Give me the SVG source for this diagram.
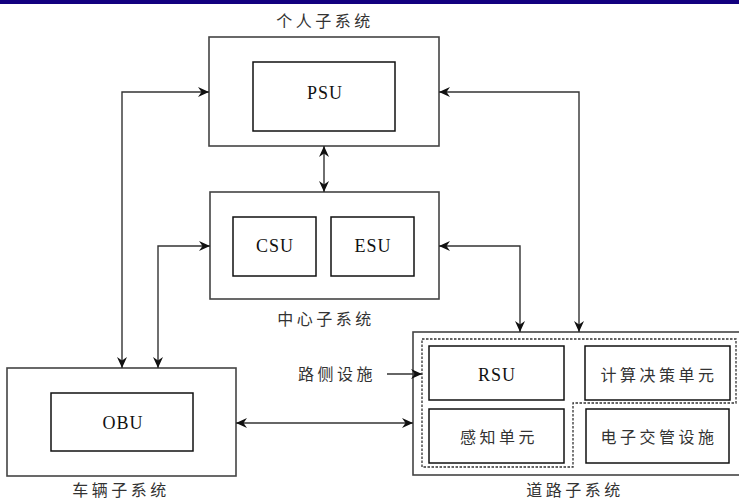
<svg xmlns="http://www.w3.org/2000/svg" width="739" height="500" viewBox="0 0 739 500">
<defs>
<style>
.outer{fill:#fff;stroke:#444;stroke-width:1.6}
.inner{fill:#fff;stroke:#111;stroke-width:1.5}
.dash{fill:none;stroke:#333;stroke-width:1.3;stroke-dasharray:2.5,1.5}
.con{fill:none;stroke:#333;stroke-width:1.4;marker-end:url(#ah)}
.dbl{marker-start:url(#ah)}
.cn{font-family:'Noto Sans CJK SC','Noto Sans CJK JP',sans-serif;font-size:16px;letter-spacing:3.5px;fill:#333;text-anchor:middle}
.en{font-family:'Liberation Serif','DejaVu Serif',serif;font-size:18px;letter-spacing:1px;fill:#111;text-anchor:middle}
</style>
<marker id="ah" viewBox="-12 -6 13 12" refX="0" refY="0" markerWidth="13" markerHeight="12" markerUnits="userSpaceOnUse" orient="auto-start-reverse">
<path d="M0,0 L-11,-5 L-7.5,0 L-11,5 z" fill="#111"/>
</marker>
</defs>
<rect x="0" y="0" width="739" height="4" fill="#12007f"/>

<g id="personal">
<rect class="outer" x="209" y="37" width="230" height="109"/>
<rect class="inner" x="253" y="62" width="142" height="69"/>
<text class="en" font-family="Liberation Serif" x="325" y="99">PSU</text>
<text class="cn" x="325" y="27">个人子系统</text>
</g>

<g id="center">
<rect class="outer" x="210" y="192" width="229" height="107"/>
<rect class="inner" x="233" y="217" width="83" height="59"/>
<rect class="inner" x="331" y="217" width="83" height="59"/>
<text class="en" font-family="Liberation Serif" x="275" y="252">CSU</text>
<text class="en" font-family="Liberation Serif" x="373" y="252">ESU</text>
<text class="cn" x="326" y="325">中心子系统</text>
</g>

<g id="vehicle">
<rect class="outer" x="7" y="368" width="229" height="108"/>
<rect class="inner" x="51" y="393" width="142" height="58"/>
<text class="en" font-family="Liberation Serif" x="123" y="429">OBU</text>
<text class="cn" x="121" y="496">车辆子系统</text>
</g>

<g id="road">
<rect class="outer" x="413" y="332" width="340" height="143"/>
<path class="dash" d="M422,339 H736 V403 H573 V467 H422 Z"/>
<rect class="inner" x="429" y="346" width="135" height="54"/>
<rect class="inner" x="585" y="346" width="145" height="54"/>
<rect class="inner" x="429" y="409" width="135" height="54"/>
<rect class="inner" x="586" y="409" width="143" height="54"/>
<text class="en" font-family="Liberation Serif" x="497" y="381">RSU</text>
<text class="cn" x="659" y="381">计算决策单元</text>
<text class="cn" x="499" y="443">感知单元</text>
<text class="cn" x="659" y="443">电子交管设施</text>
<text class="cn" x="575" y="496">道路子系统</text>
</g>

<g id="roadside-label">
<text class="cn" x="337" y="380">路侧设施</text>
</g>

<g id="connectors">
<path class="con dbl" d="M209,92 H122 V368"/>
<path class="con dbl" d="M210,246 H158 V368"/>
<path class="con dbl" d="M324,146 V192"/>
<path class="con dbl" d="M439,246 H520 V332"/>
<path class="con dbl" d="M439,92 H579 V332"/>
<path class="con dbl" d="M236,423 H413"/>
<path class="con" d="M387,374 H422"/>
</g>
</svg>
